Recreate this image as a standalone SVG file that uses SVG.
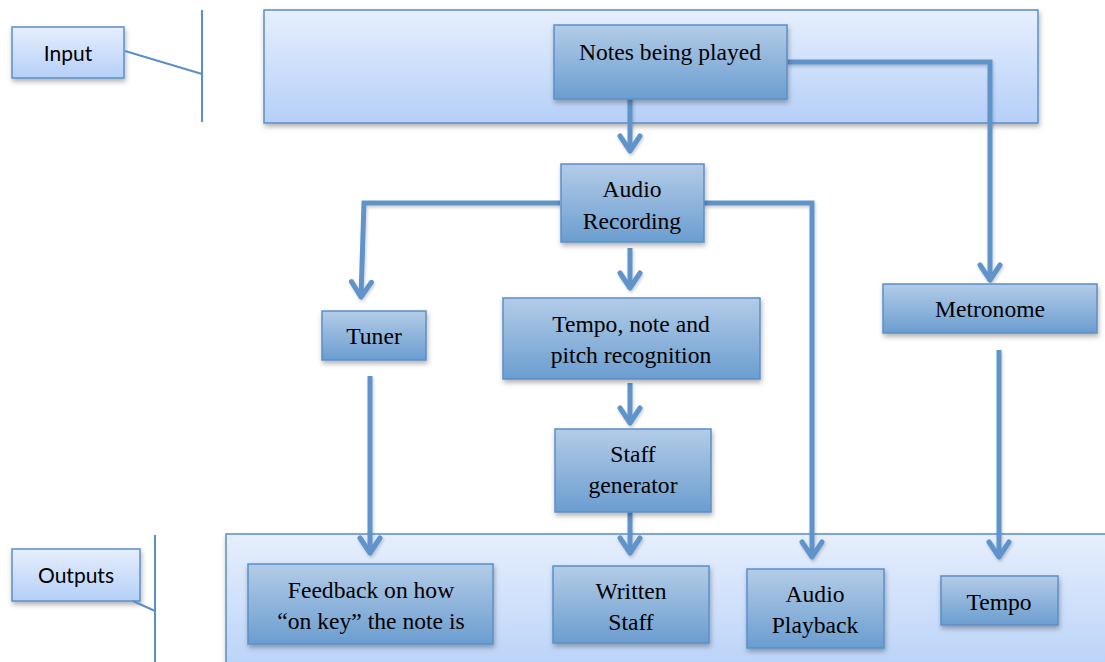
<svg xmlns="http://www.w3.org/2000/svg" width="1105" height="662" viewBox="0 0 1105 662">
  <defs>
    <linearGradient id="gDark" x1="0" y1="0" x2="0" y2="1">
      <stop offset="0" stop-color="#b3cce7"/>
      <stop offset="1" stop-color="#6b9dd0"/>
    </linearGradient>
    <linearGradient id="gLight" x1="0" y1="0" x2="0" y2="1">
      <stop offset="0" stop-color="#e6effd"/>
      <stop offset="1" stop-color="#b5cff8"/>
    </linearGradient>
    <filter id="shadow" x="-10%" y="-10%" width="130%" height="140%">
      <feDropShadow dx="1" dy="3" stdDeviation="2.5" flood-color="#000" flood-opacity="0.3"/>
    </filter>
    <filter id="lshadow" x="-10%" y="-10%" width="130%" height="130%">
      <feDropShadow dx="1" dy="2" stdDeviation="1.5" flood-color="#000" flood-opacity="0.2"/>
    </filter>
    <marker id="chev" markerUnits="userSpaceOnUse" markerWidth="40" markerHeight="40" refX="0" refY="0" orient="auto" overflow="visible">
      <path d="M-15,-10 L0,0 L-15,10" fill="none" stroke="#5f93c9" stroke-width="5" stroke-linecap="round" stroke-linejoin="round"/>
    </marker>
  </defs>
  <style>
    .dark { fill: url(#gDark); stroke: #5b8fc7; stroke-width: 1.5; filter: url(#shadow); }
    .light { fill: url(#gLight); stroke: #5b8fc7; stroke-width: 1.5; filter: url(#shadow); }
    .thin { stroke: #5b8fc7; stroke-width: 2; fill: none; }
    .conn { stroke: #5f93c9; stroke-width: 5; fill: none; marker-end: url(#chev); }
    .t { font-family: "Liberation Serif", serif; font-size: 23.6px; text-anchor: middle; fill: #000; }
    .s { font-family: Lato, "Liberation Sans", sans-serif; font-size: 21px; text-anchor: middle; fill: #000; }
  </style>
  <rect width="1105" height="662" fill="#ffffff"/>

  <!-- Frames -->
  <g id="input-frame"><rect class="light" x="264" y="10" width="774" height="113"/></g>
  <g id="output-frame"><rect class="light" x="226" y="534" width="900" height="150"/></g>

  <!-- Side labels -->
  <g id="input-label">
    <rect class="light" x="12" y="27" width="112" height="51"/>
    <text class="s" x="68" y="61">Input</text>
  </g>
  <g id="outputs-label">
    <rect class="light" x="12" y="549" width="128" height="52"/>
    <text class="s" x="76" y="583">Outputs</text>
  </g>

  <!-- Connectors -->
  <g id="connectors">
    <line class="thin" x1="125" y1="51" x2="202" y2="74"/>
    <line class="thin" x1="202" y1="10" x2="202" y2="122"/>
    <line class="thin" x1="133" y1="601" x2="155" y2="611"/>
    <line class="thin" x1="155" y1="535" x2="155" y2="662"/>
    <g filter="url(#lshadow)">
      <path class="conn" d="M630,98 L630,151"/>
      <path class="conn" d="M787,62 L990,62 L990,280"/>
      <path class="conn" d="M560,203 L364,203 L361,297"/>
      <path class="conn" d="M704,203 L812,203 L812,557"/>
      <path class="conn" d="M630,248 L630,288"/>
      <path class="conn" d="M630,383 L630,423"/>
      <path class="conn" d="M630,512 L630,553"/>
      <path class="conn" d="M370,376 L370,553"/>
      <path class="conn" d="M999,350 L999,557"/>
    </g>
  </g>

  <!-- Nodes -->
  <g id="notes">
    <rect class="dark" x="554" y="25" width="233" height="74"/>
    <text class="t" x="670" y="60">Notes being played</text>
  </g>
  <g id="audio-recording">
    <rect class="dark" x="561" y="164" width="143" height="78"/>
    <text class="t" x="632" y="197">Audio</text>
    <text class="t" x="632" y="229">Recording</text>
  </g>
  <g id="tuner">
    <rect class="dark" x="322" y="311" width="104" height="49"/>
    <text class="t" x="374" y="344">Tuner</text>
  </g>
  <g id="recognition">
    <rect class="dark" x="503" y="298" width="257" height="81"/>
    <text class="t" x="631" y="332">Tempo, note and</text>
    <text class="t" x="631" y="363">pitch recognition</text>
  </g>
  <g id="staff-generator">
    <rect class="dark" x="555" y="429" width="156" height="83"/>
    <text class="t" x="633" y="462">Staff</text>
    <text class="t" x="633" y="493">generator</text>
  </g>
  <g id="metronome">
    <rect class="dark" x="883" y="284" width="214" height="49"/>
    <text class="t" x="990" y="317">Metronome</text>
  </g>
  <g id="feedback">
    <rect class="dark" x="248" y="564" width="245" height="80"/>
    <text class="t" x="371" y="598">Feedback on how</text>
    <text class="t" x="371" y="629">“on key” the note is</text>
  </g>
  <g id="written-staff">
    <rect class="dark" x="553" y="566" width="156" height="77"/>
    <text class="t" x="631" y="599">Written</text>
    <text class="t" x="631" y="630">Staff</text>
  </g>
  <g id="audio-playback">
    <rect class="dark" x="747" y="569" width="137" height="79"/>
    <text class="t" x="815" y="602">Audio</text>
    <text class="t" x="815" y="633">Playback</text>
  </g>
  <g id="tempo">
    <rect class="dark" x="941" y="576" width="117" height="49"/>
    <text class="t" x="999" y="610">Tempo</text>
  </g>
</svg>
